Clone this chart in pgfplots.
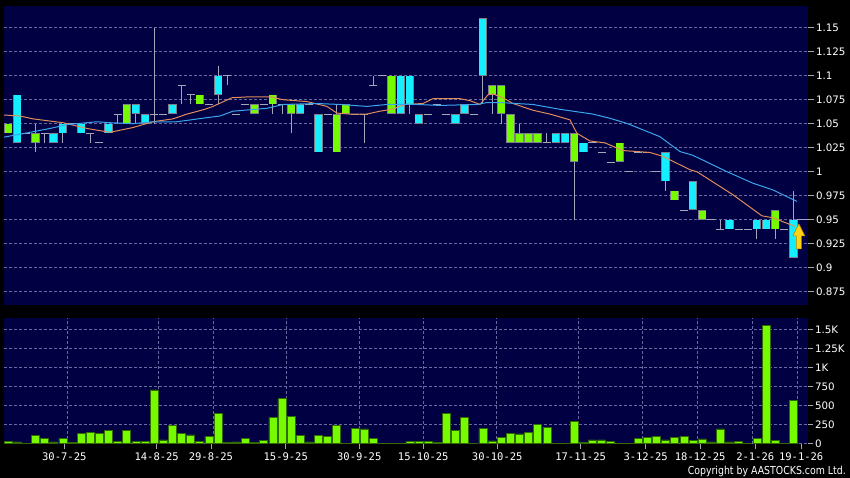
\documentclass[border=0pt]{standalone}
\usepackage{fontspec}
\setmainfont{DejaVu Sans}
\setmonofont{DejaVu Sans Mono}
\usepackage{graphicx}
\usepackage{pgfplots}
\pgfplotsset{compat=1.18}
\usepackage{pgfplotstable}

\definecolor{navy}{RGB}{0,0,66}
\definecolor{cgreen}{RGB}{118,250,0}
\definecolor{ccyan}{RGB}{20,238,255}
\definecolor{cgrid}{RGB}{105,105,160}
\definecolor{cwick}{RGB}{165,165,185}
\definecolor{cedge}{RGB}{125,125,140}
\definecolor{cvedge}{RGB}{50,105,0}
\definecolor{maorange}{RGB}{225,140,90}
\definecolor{mablue}{RGB}{60,165,235}
\definecolor{arrowfill}{RGB}{255,212,20}
\definecolor{arrowedge}{RGB}{190,130,0}

% slot, colour (0 doji, 1 green, 2 cyan), body low, body high, low, high
\pgfplotstableread{
x c bl bh lo hi
0 1 1.04 1.05 1.04 1.05
1 2 1.03 1.08 1.03 1.08
2 0 1.04 1.04 1.04 1.04
3 1 1.03 1.04 1.02 1.05
4 0 1.04 1.04 1.03 1.04
5 2 1.03 1.04 1.03 1.04
6 2 1.04 1.05 1.03 1.05
7 0 1.05 1.05 1.05 1.05
8 2 1.04 1.05 1.04 1.05
9 0 1.04 1.04 1.03 1.04
10 0 1.03 1.03 1.03 1.03
11 2 1.04 1.05 1.04 1.05
12 0 1.06 1.06 1.05 1.06
13 1 1.05 1.07 1.05 1.07
14 2 1.06 1.07 1.05 1.07
15 2 1.05 1.06 1.05 1.06
16 0 1.06 1.06 1.05 1.15
17 0 1.06 1.06 1.06 1.06
18 2 1.06 1.07 1.06 1.07
19 0 1.09 1.09 1.07 1.09
20 0 1.08 1.08 1.07 1.08
21 1 1.07 1.08 1.07 1.08
22 0 1.07 1.07 1.07 1.07
23 2 1.08 1.10 1.07 1.11
24 0 1.10 1.10 1.09 1.10
25 0 1.06 1.06 1.06 1.06
26 0 1.07 1.07 1.07 1.07
27 1 1.06 1.07 1.06 1.07
28 0 1.07 1.07 1.07 1.07
29 1 1.07 1.08 1.06 1.08
30 0 1.07 1.07 1.06 1.07
31 1 1.06 1.07 1.04 1.07
32 2 1.06 1.07 1.06 1.07
33 0 1.07 1.07 1.07 1.07
34 2 1.02 1.06 1.02 1.06
35 0 1.06 1.06 1.06 1.06
36 1 1.02 1.06 1.02 1.07
37 1 1.06 1.07 1.06 1.07
38 0 1.06 1.06 1.06 1.06
39 0 1.06 1.06 1.03 1.06
40 0 1.09 1.09 1.09 1.10
41 0 1.10 1.10 1.10 1.10
42 1 1.06 1.10 1.06 1.10
43 2 1.06 1.10 1.06 1.10
44 2 1.07 1.10 1.06 1.10
45 2 1.05 1.06 1.05 1.06
46 0 1.06 1.06 1.06 1.06
47 0 1.07 1.07 1.07 1.07
48 0 1.06 1.06 1.06 1.06
49 2 1.05 1.06 1.05 1.06
50 2 1.06 1.07 1.06 1.07
51 0 1.06 1.06 1.06 1.06
52 2 1.10 1.16 1.07 1.16
53 1 1.08 1.09 1.06 1.09
54 1 1.06 1.09 1.05 1.09
55 1 1.03 1.06 1.03 1.06
56 1 1.03 1.04 1.03 1.05
57 1 1.03 1.04 1.03 1.04
58 1 1.03 1.04 1.03 1.04
59 0 1.03 1.03 1.03 1.04
60 2 1.03 1.04 1.03 1.04
61 2 1.03 1.04 1.03 1.04
62 1 1.01 1.04 0.95 1.04
63 2 1.02 1.03 1.02 1.03
64 0 1.03 1.03 1.03 1.03
65 0 1.02 1.02 1.02 1.02
66 0 1.01 1.01 1.01 1.01
67 1 1.01 1.03 1.01 1.03
68 0 1.00 1.00 1.00 1.00
69 0 1.02 1.02 1.02 1.02
70 0 1.02 1.02 1.02 1.02
71 0 1.00 1.00 1.00 1.00
72 2 0.99 1.02 0.98 1.02
73 1 0.97 0.98 0.97 0.98
74 0 0.96 0.96 0.96 0.96
75 2 0.96 0.99 0.96 0.99
76 1 0.95 0.96 0.95 0.96
77 0 0.95 0.95 0.95 0.95
78 0 0.94 0.94 0.94 0.95
79 2 0.94 0.95 0.94 0.95
80 0 0.94 0.94 0.94 0.94
81 0 0.94 0.94 0.94 0.94
82 2 0.94 0.95 0.93 0.95
83 2 0.94 0.95 0.94 0.95
84 1 0.94 0.96 0.93 0.96
85 0 0.94 0.94 0.94 0.94
86 2 0.91 0.95 0.91 0.98
}\candles

\pgfplotstableread{
x v
0 26
1 18
2 4
3 101
4 61
5 18
6 70
7 9
8 136
9 149
10 132
11 175
12 26
13 175
14 26
15 26
16 706
17 44
18 241
19 132
20 110
21 26
22 96
23 399
24 9
25 18
26 61
27 9
28 40
29 342
30 588
31 351
32 101
33 18
34 105
35 96
36 241
37 4
38 197
39 189
40 61
41 2
42 4
43 4
44 26
45 22
46 22
47 9
48 399
49 167
50 338
51 4
52 193
53 31
54 75
55 132
56 123
57 149
58 250
59 215
60 2
61 2
62 294
63 9
64 44
65 44
66 26
67 4
68 2
69 70
70 83
71 96
72 44
73 75
74 96
75 40
76 57
77 18
78 189
79 18
80 22
81 4
82 66
83 1557
84 40
85 4
86 566
}\volume

\pgfplotstableread{
x y
-0.44 1.059
1.31 1.058
2.74 1.055
6.02 1.051
8.65 1.045
11.17 1.041
13.69 1.046
15.87 1.052
18.06 1.055
19.60 1.060
21.57 1.065
22.44 1.068
24.52 1.077
26.49 1.078
28.68 1.078
30.11 1.075
32.73 1.073
34.92 1.068
36.02 1.061
37.44 1.060
39.30 1.060
40.73 1.063
42.04 1.065
43.46 1.070
45.43 1.071
46.53 1.076
49.49 1.076
50.58 1.074
51.68 1.070
52.55 1.080
53.10 1.081
54.19 1.077
55.29 1.071
57.48 1.064
59.34 1.060
61.53 1.054
62.29 1.040
63.72 1.032
65.36 1.030
67.33 1.022
70.29 1.020
71.71 1.016
74.67 1.002
75.43 1.000
79.37 0.976
82.55 0.954
83.75 0.952
86.16 0.943
}\maorange

\pgfplotstableread{
x y
-0.44 1.036
1.31 1.039
4.60 1.045
6.46 1.049
9.74 1.052
11.17 1.051
13.69 1.050
15.87 1.052
18.50 1.052
21.57 1.056
23.21 1.058
24.63 1.063
28.36 1.066
30.11 1.070
33.83 1.071
36.35 1.070
39.30 1.068
41.49 1.070
44.78 1.070
47.30 1.069
51.35 1.070
52.44 1.072
53.86 1.072
57.48 1.070
60.43 1.065
64.05 1.060
65.91 1.0556
67.77 1.0503
71.38 1.0365
73.57 1.021
75.00 1.017
78.72 1.000
81.56 0.988
83.75 0.981
86.38 0.969
}\mablue

\pgfplotsset{
  panel/.style={
    scale only axis, width=804pt,
    xmin=-0.44, xmax=87.6,
    axis background/.style={fill=navy},
    axis line style={draw=none},
    minor xtick={6.5,16.5,22.5,30.5,38.5,45.5,53.5,62.45,69.5,75.5,81.5,86.42},
    xminorgrids=true, ymajorgrids=true,
    minor tick length=0pt,
    grid style={cgrid, dash pattern=on 3pt off 2pt, line width=0.5pt},
    ytick pos=right, yticklabel pos=right,
    tick align=outside, major tick length=6pt,
    tick style={cwick, line width=0.7pt},
    ticklabel style={white, font=\fontsize{10.3}{12}\selectfont},
    yticklabel style={inner sep=1.8pt},
  },
  body/.style n args={2}{draw=none, mark=none, forget plot,
    restrict expr to domain={\thisrow{c}}{#1},
    error bars/.cd, y dir=plus, y explicit, error mark=none,
    error bar style={#2}},
}

\begin{document}
\begin{tikzpicture}
\useasboundingbox (0pt,0pt) rectangle (850pt,478pt);
\fill[black] (0pt,0pt) rectangle (850pt,478pt);

\begin{axis}[panel,
  at={(4pt,173pt)}, anchor=south west, height=299pt,
  ymin=0.8611, ymax=1.1726,
  xtick=\empty,
  ytick={0.875,0.9,0.925,0.95,0.975,1,1.025,1.05,1.075,1.1,1.125,1.15},
  yticklabels={0.875,0.9,0.925,0.95,0.975,1,1.025,1.05,1.075,1.1,1.125,1.15},
]
% wicks
\addplot[draw=none, mark=none, forget plot,
  error bars/.cd, y dir=plus, y explicit, error mark=none,
  error bar style={draw=cwick, line width=0.9pt}]
  table[x=x, y=lo, y error plus expr=\thisrow{hi}-\thisrow{lo}] {\candles};
% doji dashes
\addplot[draw=none, mark=none, forget plot,
  restrict expr to domain={\thisrow{c}}{0:0},
  error bars/.cd, x dir=both, x fixed=0.44, error mark=none,
  error bar style={draw=cwick, line width=1pt}]
  table[x=x, y=bl] {\candles};
% body outlines and fills
\addplot[body={1:2}{draw=cedge, line width=8.4pt}]
  table[x=x, y=bl, y error plus expr=\thisrow{bh}-\thisrow{bl}] {\candles};
\addplot[body={1:1}{draw=cgreen, line width=7pt, shorten <=0.6pt, shorten >=0.6pt}]
  table[x=x, y=bl, y error plus expr=\thisrow{bh}-\thisrow{bl}] {\candles};
\addplot[body={2:2}{draw=ccyan, line width=7pt, shorten <=0.6pt, shorten >=0.6pt}]
  table[x=x, y=bl, y error plus expr=\thisrow{bh}-\thisrow{bl}] {\candles};
% moving averages
\addplot[maorange, line width=1pt, mark=none] table[x=x, y=y] {\maorange};
\addplot[mablue, line width=1pt, mark=none] table[x=x, y=y] {\mablue};
% last price line and marker arrow
\addplot[cwick, line width=0.8pt, mark=none] coordinates {(86.42,0.95) (87.6,0.95)};
\addplot[fill=arrowfill, draw=arrowedge, line width=0.6pt, mark=none] coordinates {
  (86.6,0.9456) (87.25,0.9331) (86.87,0.9331) (86.87,0.9196)
  (86.33,0.9196) (86.33,0.9331) (85.95,0.9331) (86.6,0.9456)};
\end{axis}

\begin{axis}[panel,
  at={(4pt,34pt)}, anchor=south west, height=126pt,
  ymin=-9, ymax=1654,
  major tick length=5pt,
  ytick={0,250,500,750,1000,1250,1500},
  yticklabels={0,250,500,750,1K,1.25K,1.5K},
  xtick={6.16,16.28,22.22,30.41,38.46,45.47,53.57,62.7,69.82,75.79,81.82,86.85},
  xticklabels={30-7-25,14-8-25,29-8-25,15-9-25,30-9-25,15-10-25,30-10-25,17-11-25,3-12-25,18-12-25,2-1-26,19-1-26},
  xtick pos=bottom,
  xticklabel style={font=\ttfamily\fontsize{10.5}{12}\selectfont, yshift=-0.5pt},
]
\addplot[ybar, bar width=8pt, bar shift=0pt, fill=cgreen, draw=cvedge, line width=0.6pt]
  table[x=x, y=v] {\volume};
\end{axis}

\node[anchor=base east, white, inner sep=0pt] at (846pt,3.7pt)
  {\resizebox{158pt}{\height}{\fontsize{11}{13}\selectfont Copyright by AASTOCKS.com Ltd.}};
\end{tikzpicture}
\end{document}
